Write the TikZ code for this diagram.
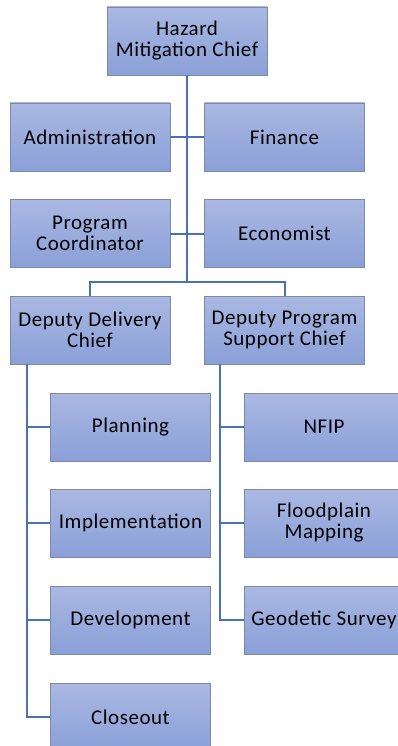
\documentclass[tikz,border=0pt]{standalone}
\usepackage{fontspec}
\setmainfont{Carlito}[LetterSpace=2.5]
\usepackage{tikz}
\usetikzlibrary{calc}
\definecolor{boxtop}{HTML}{AAB8E2}
\definecolor{boxbot}{HTML}{8AA0D8}
\definecolor{boxedge}{HTML}{7C8AA6}
\definecolor{linkc}{HTML}{4A70B5}

\begin{document}
\begin{tikzpicture}[x=1pt,y=-1pt,
    post/.style={rectangle,draw=boxedge,line width=0.8pt,top color=boxtop,bottom color=boxbot,
      minimum width=160pt,minimum height=68pt,inner sep=0pt,align=center,
      font=\fontsize{21}{21}\selectfont},
    link/.style={draw=linkc,line width=2pt}]
            % 画像の大きさを固定
            \useasboundingbox (0,0) rectangle (398,746);

            % 枠を置く
            \node[post] (hmc) at (187,41) {Hazard\\Mitigation Chief};
            \node[post] (adm) at (90,137) {Administration};
            \node[post] (fin) at (284.5,137) {Finance};
            \node[post] (pc) at (90,233.5) {Program\\Coordinator};
            \node[post] (eco) at (284.5,233.5) {Economist};
            \node[post] (ddc) at (90,330) {Deputy Delivery\\Chief};
            \node[post] (dpsc) at (284.5,330) {Deputy Program\\Support Chief};

            \node[post] (pla) at (130.5,427) {Planning};
            \node[post] (imp) at (130.5,523) {Implementation};
            \node[post] (dev) at (130.5,620) {Development};
            \node[post] (clo) at (130.5,717) {Closeout};

            \node[post] (nfip) at (324,427) {NFIP};
            \node[post] (fpm) at (324,523) {Floodplain\\Mapping};
            \node[post] (geo) at (324,620) {Geodetic Survey};

            % 線を引く
            \coordinate (j) at (187,282);
            \coordinate (dl) at ($(ddc.south west)+(17,0)$);
            \coordinate (dr) at ($(dpsc.south west)+(16,0)$);

            \draw[link] (hmc)--(j);
            \draw[link] (adm)--(fin);
            \draw[link] (pc)--(eco);
            \draw[link] (ddc.north)|-(j)-|(dpsc.north);

            \foreach \n in {pla,imp,dev}
                \draw[link] (dl|-\n.west)--(\n.west);
            \draw[link] (dl)|-(clo.west);

            \foreach \n in {nfip,fpm}
                \draw[link] (dr|-\n.west)--(\n.west);
            \draw[link] (dr)|-(geo.west);

        \end{tikzpicture}
\end{document}
